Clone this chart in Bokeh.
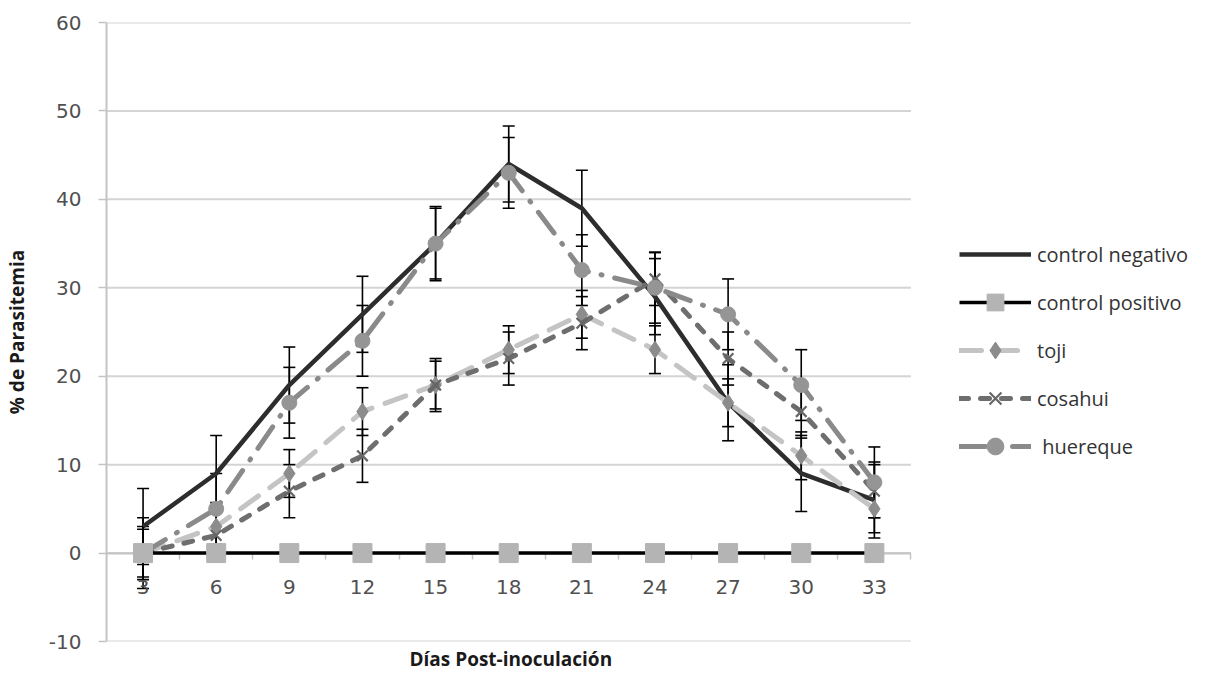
from bokeh.plotting import figure
from bokeh.models import (Range1d, LinearAxis, FixedTicker, Whisker, TeeHead,
                          ColumnDataSource, Legend, LegendItem, Title)
from bokeh.embed import file_html
from bokeh.resources import INLINE

days = [3, 6, 9, 12, 15, 18, 21, 24, 27, 30, 33]
control_negativo = [3, 9, 19, 27, 35, 44, 39, 29, 17, 9, 6]
control_negativo_err = [4.3, 4.3, 4.3, 4.3, 4.2, 4.3, 4.3, 4.3, 4.3, 4.3, 4.3]
control_positivo = [0, 0, 0, 0, 0, 0, 0, 0, 0, 0, 0]
toji = [0, 3, 9, 16, 19, 23, 27, 23, 17, 11, 5]
toji_err = [2.7, 2.7, 2.7, 2.7, 2.7, 2.7, 2.7, 2.7, 2.7, 2.7, 2.7]
cosahui = [0, 2, 7, 11, 19, 22, 26, 31, 22, 16, 7]
cosahui_err = [3.0, 3.0, 3.0, 3.0, 3.0, 3.0, 3.0, 3.0, 3.0, 3.0, 3.0]
huereque = [0, 5, 17, 24, 35, 43, 32, 30, 27, 19, 8]
huereque_err = [4.0, 4.0, 4.0, 4.0, 4.0, 4.0, 4.0, 4.0, 4.0, 4.0, 4.0]
y_ticks = [-10, 0, 10, 20, 30, 40, 50, 60]

X_LO = days[0] - 1.5
X_HI = days[-1] + 1.5
minor_x = [d - 1.5 for d in days] + [X_HI]

FONT = "Open Sans"
TICK_FONT = "DejaVu Sans"

W, H = 1209, 673
LEFT, TOP = 97, 22
PLOT_W = 811                     # width of the data area (categories)
FRAME_W = W - LEFT               # frame extends under the legend
X_END = X_LO + (X_HI - X_LO) * FRAME_W / PLOT_W

p = figure(width=W, height=H, output_backend="svg", toolbar_location=None,
           x_range=Range1d(X_LO, X_END), y_range=Range1d(-10, 60),
           x_axis_location=None, min_border_left=LEFT, min_border_top=TOP,
           min_border_right=0, min_border_bottom=30)
p.outline_line_color = None
p.xgrid.grid_line_color = None
p.ygrid.grid_line_color = None

# horizontal gridlines limited to the category area
p.segment(x0=[X_LO] * len(y_ticks), x1=[X_HI] * len(y_ticks), y0=y_ticks, y1=y_ticks,
          line_color="#d4d4d4", line_width=2, level="underlay")

yax = p.yaxis[0]
yax.ticker = FixedTicker(ticks=y_ticks)
yax.major_label_overrides = {-10: "-10"}
yax.axis_line_color = "#c4c4c4"
yax.axis_line_width = 2
yax.major_tick_line_color = "#c4c4c4"
yax.major_tick_line_width = 1.5
yax.major_tick_out = 8
yax.major_tick_in = 0
yax.minor_tick_line_color = None
yax.major_label_text_font = TICK_FONT
yax.major_label_text_font_size = "20px"
yax.major_label_text_color = "#505050"
yax.major_label_standoff = 17
yax.axis_label = "% de Parasitemia"
yax.axis_label_text_font = FONT
yax.axis_label_text_font_style = "bold"
yax.axis_label_text_font_size = "19px"
yax.axis_label_text_color = "#1a1a1a"
yax.axis_label_standoff = 16

xax = LinearAxis(fixed_location=0, bounds=(X_LO, X_HI),
                 ticker=FixedTicker(ticks=days, minor_ticks=minor_x))
xax.axis_line_color = "#c4c4c4"
xax.axis_line_width = 2
xax.major_tick_line_color = None
xax.major_tick_out = 0
xax.major_tick_in = 0
xax.minor_tick_line_color = "#c4c4c4"
xax.minor_tick_line_width = 1.5
xax.minor_tick_out = 6
xax.minor_tick_in = 0
xax.major_label_text_font = TICK_FONT
xax.major_label_text_font_size = "20px"
xax.major_label_text_color = "#505050"
xax.major_label_standoff = 21
p.add_layout(xax, "below")

p.add_layout(Title(text="Días Post-inoculación", align="left", offset=303,
                   standoff=4, text_font=FONT, text_font_style="bold",
                   text_font_size="19px", text_color="#1a1a1a"), "below")

def src(vals, err):
    return ColumnDataSource(dict(x=days, y=vals,
                                 upper=[v + e for v, e in zip(vals, err)],
                                 lower=[v - e for v, e in zip(vals, err)]))

def whisk(s):
    w = Whisker(source=s, base="x", upper="upper", lower="lower",
                line_color="black", line_width=1.6,
                upper_head=TeeHead(size=12, line_color="black", line_width=1.6),
                lower_head=TeeHead(size=12, line_color="black", line_width=1.6))
    p.add_layout(w)

items = []

# control negativo
s_neg = src(control_negativo, control_negativo_err)
r = p.line("x", "y", source=s_neg, line_color="#2d2d2d", line_width=4.5, line_join="round")
whisk(s_neg)
items.append(LegendItem(label="control negativo", renderers=[r]))

# control positivo
s_pos = ColumnDataSource(dict(x=days, y=control_positivo))
r1 = p.line("x", "y", source=s_pos, line_color="black", line_width=3.5, level="overlay")
r2 = p.scatter("x", "y", source=s_pos, marker="square", size=19,
               fill_color="#b4b4b4", line_color="#b4b4b4", level="overlay")
items.append(LegendItem(label="control positivo", renderers=[r1, r2]))

# toji
s_toji = src(toji, toji_err)
r1 = p.line("x", "y", source=s_toji, line_color="#c4c4c4", line_width=5,
            line_dash="22 14", line_cap="round")
r2 = p.scatter("x", "y", source=s_toji, marker="diamond", size=17,
               fill_color="#8c8c8c", line_color="#8c8c8c")
whisk(s_toji)
items.append(LegendItem(label="toji", renderers=[r1, r2]))

# cosahui
s_cos = src(cosahui, cosahui_err)
r1 = p.line("x", "y", source=s_cos, line_color="#6e6e6e", line_width=5,
            line_dash="9 12", line_cap="round")
r2 = p.scatter("x", "y", source=s_cos, marker="x", size=15,
               line_color="#666666", line_width=2.2)
whisk(s_cos)
items.append(LegendItem(label="cosahui", renderers=[r1, r2]))

# huereque
s_hue = src(huereque, huereque_err)
r1 = p.line("x", "y", source=s_hue, line_color="#8a8a8a", line_width=5,
            line_dash="26 13 1 13", line_cap="round")
r2 = p.scatter("x", "y", source=s_hue, marker="circle", size=15,
               fill_color="#959595", line_color="#959595")
whisk(s_hue)
items.append(LegendItem(label=" huereque", renderers=[r1, r2]))

legend = Legend(items=items, location=(853, 174), glyph_width=72, glyph_height=42,
                label_height=20, spacing=6, padding=0, margin=0,
                label_text_font=FONT, label_text_font_size="20px",
                label_text_color="#333333", label_standoff=6,
                border_line_color=None, background_fill_alpha=0)
p.add_layout(legend)

open("out.html", "w").write(file_html(p, INLINE))
